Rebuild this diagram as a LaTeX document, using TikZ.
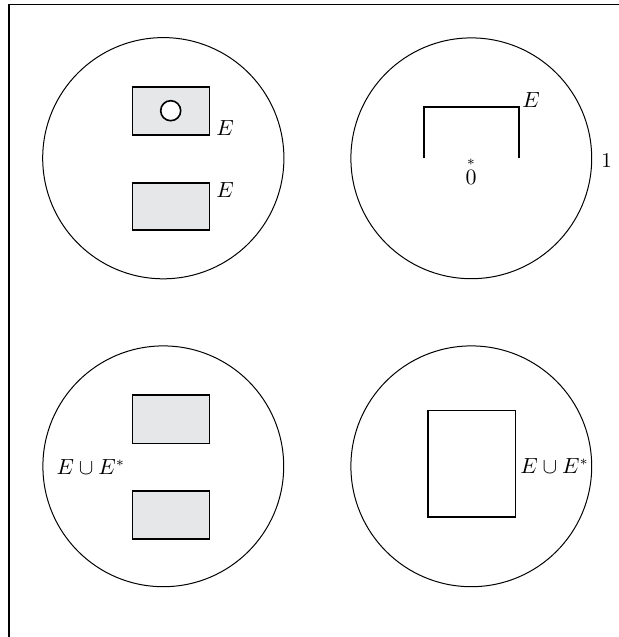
\documentclass[tikz,border=0pt]{standalone}
\usepackage{amsmath}
\usepackage{amssymb}
\usepackage{tikz}
\usetikzlibrary{positioning}
\definecolor{setgray}{RGB}{230,231,232}

\begin{document}
\begin{tikzpicture}[x=0.5pt, y=-0.5pt,
  font=\fontsize{10.5}{12}\selectfont,
  disc/.style={line width=0.5pt},
  setbox/.style={draw, line width=0.8pt, fill=setgray},
  edge/.style={line width=0.8pt},
  lbl/.style={inner sep=1pt}]
\useasboundingbox (0,0) rectangle (619,637);

% Frame
\draw[line width=0.8pt] (9,637) -- (9,4.5) -- (619,4.5);

% Four discs
\draw[disc] (163.3,158.2) circle (120.6);
\draw[disc] (471.3,158.3) circle (120.4);
\draw[disc] (163.3,466.3) circle (120.4);
\draw[disc] (471.3,466.3) circle (120.4);

% Top left: two sets E
\draw[setbox] (132.3,87) rectangle (209.3,135);
\draw[edge, fill=white] (170.7,110.7) circle (10);
\draw[setbox] (132.3,182.7) rectangle (209.3,230);
\node[lbl, anchor=west] (e1) at (214,128) {$E$};
\node[lbl, anchor=west] (e2) at (214,190) {$E$};

% Top right: open bracket round 0
\draw[edge] (424,158.3) -- (424,106.7) -- (518.7,106.7) -- (518.7,158.3);
\node[lbl, anchor=west] (e3) at (520,100) {$E$};
\node[lbl, anchor=base] (zero) at (471,184) {$\overset{*}{0}$};
\node[lbl] (one) at (606.7,160.7) {1};

% Bottom left: E with its reflection
\draw[setbox] (132.3,395) rectangle (209.3,443.3);
\draw[setbox] (132.3,490.7) rectangle (209.3,538.7);
\node[lbl] (u1) at (90.8,466.7) {$E \cup E^{*}$};

% Bottom right: hull
\draw[edge] (427.7,410.3) rectangle (515.3,516.7);
\node[lbl, anchor=west] (u2) at (518,465.7) {$E \cup E^{*}$};

\end{tikzpicture}
\end{document}
